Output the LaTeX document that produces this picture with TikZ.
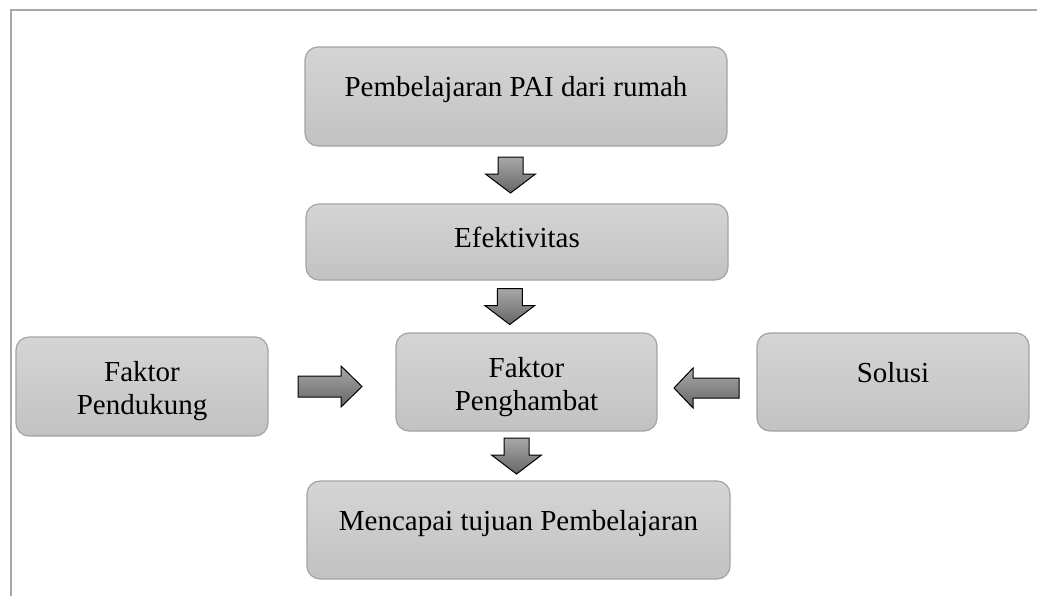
\documentclass[tikz,border=0pt]{standalone}
\usepackage{fontspec}
\setmainfont{Liberation Serif}
\usetikzlibrary{calc}
\definecolor{kotakatas}{HTML}{D5D5D5}
\definecolor{kotakbawah}{HTML}{C2C2C2}
\definecolor{garis}{HTML}{A3A3A3}
\definecolor{bingkai}{HTML}{A8A8A8}
\definecolor{panahatas}{HTML}{A8A8A8}
\definecolor{panahbawah}{HTML}{666666}
\tikzset{
  kotak/.style={draw=garis, line width=0.6pt, rounded corners=6.5pt,
    top color=kotakatas, bottom color=kotakbawah, align=center,
    inner sep=2pt, font=\fontsize{14.5}{16.5}\selectfont},
  satubaris/.style={text height=8.7pt, text depth=8.7pt},
  panah/.style={draw=black, line width=0.5pt, top color=panahatas,
    bottom color=panahbawah, line join=miter}
}
\begin{document}
\begin{tikzpicture}[x=0.5pt, y=-0.5pt]
  \useasboundingbox (0,0) rectangle (1037,596);
  \draw [bingkai, line width=1pt] (11,596) -- (11,10) -- (1037,10);
  % kotak-kotak
  \node [kotak, satubaris, minimum width=211pt, minimum height=49.5pt]
    (pai) at (516,96.5) {Pembelajaran PAI dari rumah};
  \node [kotak, satubaris, text depth=3.6pt, minimum width=211pt,
    minimum height=38pt] (efektif) at (517,242) {Efektivitas};
  \node [kotak, minimum width=130.5pt, minimum height=49pt]
    (hambat) at (526.5,382) {\rule{0pt}{15pt}Faktor\\Penghambat};
  \node [kotak, minimum width=126pt, minimum height=49.5pt]
    (pendukung) at (142,386.5) {\rule{0pt}{15pt}Faktor\\Pendukung};
  \node [kotak, satubaris, minimum width=136pt, minimum height=49pt]
    (solusi) at (893,382) {Solusi};
  \node [kotak, satubaris, minimum width=211.5pt, minimum height=49pt]
    (tujuan) at (518.5,530) {Mencapai tujuan Pembelajaran};
  % panah ke bawah
  \foreach \a/\b/\dx in {pai/efektif/-6, efektif/hambat/-12, hambat/tujuan/-6} {
    \begin{scope}[shift={($(\a.south)!.5!(\b.north)$)}, shift={(\dx,0)}]
      \draw [panah] (-12.5,-18) -- (12.5,-18) -- (12.5,-1) -- (25,-1)
        -- (0,18) -- (-25,-1) -- (-12.5,-1) -- cycle;
    \end{scope}
  }
  % panah ke samping
  \begin{scope}[shift={($(pendukung.east)!.5!(hambat.west)$)}, shift={(-2,2.25)}]
    \draw [panah] (-32,-10.5) -- (11,-10.5) -- (11,-20.5) -- (32,0)
      -- (11,20.5) -- (11,10.5) -- (-32,10.5) -- cycle;
  \end{scope}
  \begin{scope}[shift={($(hambat.east)!.5!(solusi.west)$)}, shift={(-0.5,6)}, xscale=-1]
    \draw [panah] (-32.5,-10) -- (13.5,-10) -- (13.5,-20) -- (32.5,0)
      -- (13.5,20) -- (13.5,10) -- (-32.5,10) -- cycle;
  \end{scope}
\end{tikzpicture}
\end{document}
